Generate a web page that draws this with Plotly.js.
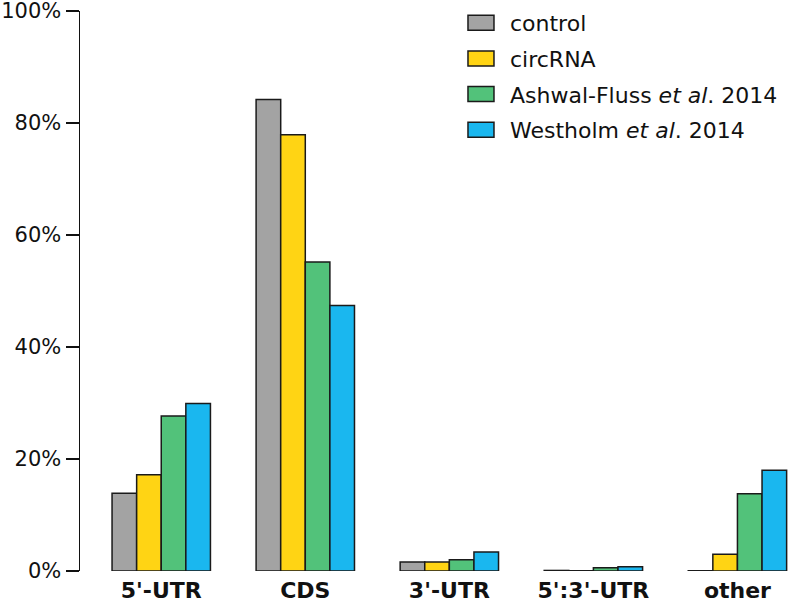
<!DOCTYPE html>
<html>
<head>
<meta charset="utf-8">
<script src="https://cdn.plot.ly/plotly-3.0.1.min.js"></script>
<style>html,body{margin:0;padding:0;background:#fff;}#chart{width:788px;height:603px;}</style>
</head>
<body>
<div id="chart"></div>
<script>
var categories = ["5'-UTR", "CDS", "3'-UTR", "5':3'-UTR", "other"];
var seriesNames = ["control", "circRNA", "Ashwal-Fluss <i>et al</i>. 2014", "Westholm <i>et al</i>. 2014"];
var control = [13.9, 84.2, 1.6, 0.1, 0.05];
var circRNA = [17.2, 77.9, 1.6, 0.05, 3.0];
var ashwalFluss = [27.7, 55.2, 2.0, 0.6, 13.8];
var westholm = [29.9, 47.4, 3.4, 0.75, 18.0];
var yTickValues = [0, 20, 40, 60, 80, 100];
var yTickLabels = ['0%', '20%', '40%', '60%', '80%', '100%'];

var seriesValues = [control, circRNA, ashwalFluss, westholm];
var colors = ['#a3a3a3', '#ffd414', '#52c27a', '#1ab7ef'];

var traces = seriesValues.map(function (vals, i) {
  return {
    type: 'bar',
    x: categories,
    y: vals,
    name: seriesNames[i],
    legendgroup: 'g' + i,
    marker: {color: colors[i], line: {color: '#1a1a1a', width: 1.5}},
    hoverinfo: 'skip'
  };
});

var layout = {
  width: 788,
  height: 603,
  margin: {l: 80, r: 0, t: 11, b: 32, pad: 0},
  paper_bgcolor: '#fff',
  plot_bgcolor: '#fff',
  barmode: 'group',
  bargap: 0.317,
  bargroupgap: 0,
  showlegend: true,
  font: {family: 'DejaVu Sans', color: '#111'},
  xaxis: {
    type: 'category',
    range: [-0.564, 4.351],
    showline: false,
    showgrid: false,
    zeroline: false,
    ticks: '',
    tickfont: {family: 'DejaVu Sans', size: 22, weight: 'bold', color: '#111'},
    ticklabelstandoff: 4,
    ticklabeloverflow: 'allow'
  },
  yaxis: {
    range: [0, 100],
    tickmode: 'array',
    tickvals: yTickValues,
    ticktext: yTickLabels,
    showline: true,
    linecolor: '#111',
    linewidth: 1.5,
    ticks: 'outside',
    ticklen: 13,
    tickwidth: 1.5,
    tickcolor: '#111',
    showgrid: false,
    zeroline: false,
    tickfont: {family: 'DejaVu Sans', size: 21, color: '#111'},
    ticklabelstandoff: 0,
    ticklabeloverflow: 'allow'
  },
  legend: {
    x: 0.5254,
    xanchor: 'left',
    y: 1.016,
    yanchor: 'top',
    bgcolor: 'rgba(0,0,0,0)',
    borderwidth: 0,
    font: {family: 'DejaVu Sans', size: 22, color: '#111'},
    itemwidth: 48,
    tracegroupgap: 4,
    traceorder: 'grouped'
  }
};

Plotly.newPlot('chart', traces, layout, {displayModeBar: false, staticPlot: true}).then(function () {
  document.querySelectorAll('.legend .legendpoints path').forEach(function (p) {
    p.setAttribute('d', 'M-13,7.5H13V-7.5H-13Z');
  });
});
</script>
</body>
</html>
